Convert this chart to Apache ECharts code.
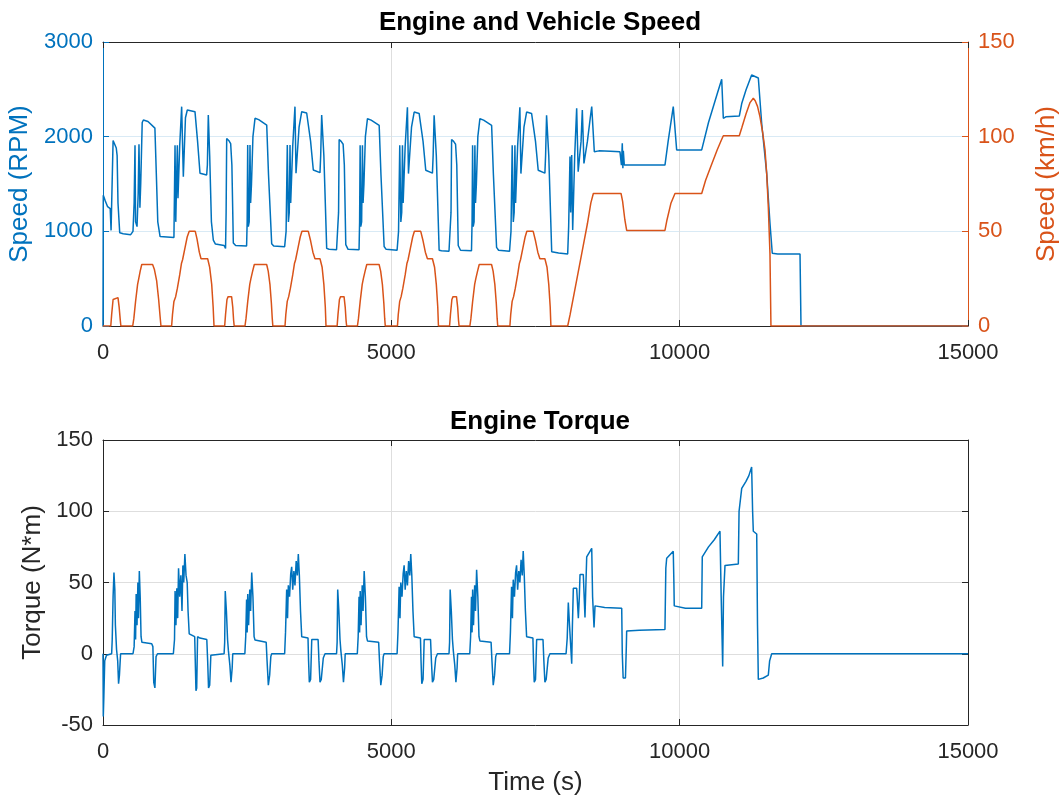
<!DOCTYPE html>
<html><head><meta charset="utf-8">
<script src="https://cdn.jsdelivr.net/npm/echarts@6/dist/echarts.min.js"></script>
<style>html,body{margin:0;padding:0;background:#fff}#c{width:1063px;height:804px}</style>
</head><body><div id="c"></div>
<script>
// ---- data (time in x-axis units) ----
const titles = ['Engine and Vehicle Speed', 'Engine Torque'];
const xTicks = { min: 0, max: 15000, step: 5000 };
const rpmTicks = { min: 0, max: 3000, step: 1000 };
const kmhTicks = { min: 0, max: 150, step: 50 };
const torqueTicks = { min: -50, max: 150, step: 50 };

const engineSpeed = [
 [0,0],[5,1380],[40,1320],[80,1260],[125,1240],[140,1010],[165,990],[175,1960],[200,1950],[230,1880],[245,1800],[260,1300],[290,985],[350,975],[480,965],[520,1000],[540,1300],[555,1910],[565,1100],[590,1050],[610,1400],[624,1920],[640,1250],[654,1500],[680,2150],[700,2176],[780,2160],[900,2090],[925,1600],[950,1100],[990,945],[1230,935],[1249,1910],[1262,1100],[1275,1500],[1289,1910],[1300,1350],[1330,1900],[1364,2317],[1393,1577],[1430,2200],[1462,2282],[1595,2264],[1640,1950],[1682,1613],[1798,1595],[1810,1700],[1826,2229],[1850,1800],[1880,1100],[1913,908],
 [1950,865],[2100,850],[2125,820],[2135,1200],[2145,1980],[2180,1960],[2214,1926],[2235,1700],[2260,877],[2300,850],[2490,845],[2500,1100],[2509,1912],[2520,1050],[2535,1100],[2549,1912],[2560,1300],[2575,1500],[2600,2000],[2636,2194],[2700,2180],[2839,2123],[2870,1600],[2925,870],[2960,845],[3150,838],[3175,1000],[3196,1912],[3215,1100],[3230,1200],[3243,1912],[3255,1300],[3290,1900],[3329,2317],[3347,1613],[3400,2100],[3446,2264],[3532,2250],[3600,1950],[3647,1648],[3763,1620],[3775,1800],[3792,2229],[3830,1800],[3879,820],
 [3920,810],[4050,805],[4075,790],[4085,1200],[4095,1970],[4130,1950],[4164,1920],[4185,1700],[4210,860],[4250,810],[4440,805],[4450,1100],[4459,1910],[4470,1050],[4485,1100],[4499,1910],[4510,1300],[4525,1500],[4550,2000],[4586,2190],[4650,2175],[4789,2120],[4820,1600],[4875,840],[4910,810],[5100,800],[5125,1000],[5146,1910],[5165,1100],[5180,1200],[5193,1910],[5205,1300],[5240,1900],[5279,2310],[5297,1610],[5350,2100],[5396,2260],[5482,2245],[5550,1950],[5597,1645],[5713,1615],[5725,1800],[5742,2225],[5780,1800],[5829,800],
 [5870,795],[6000,790],[6025,780],[6035,1200],[6045,1970],[6080,1950],[6114,1920],[6135,1700],[6160,850],[6200,800],[6390,795],[6400,1100],[6409,1910],[6420,1050],[6435,1100],[6449,1910],[6460,1300],[6475,1500],[6500,2000],[6536,2190],[6600,2175],[6739,2120],[6770,1600],[6825,830],[6860,800],[7050,790],[7075,1000],[7096,1910],[7115,1100],[7130,1200],[7143,1910],[7155,1300],[7190,1900],[7229,2310],[7247,1610],[7300,2100],[7346,2260],[7432,2245],[7500,1950],[7547,1645],[7663,1615],[7675,1800],[7692,2225],[7730,1800],[7781,785],
 [7900,770],[8058,760],[8075,1050],[8098,1790],[8110,1200],[8128,1806],[8145,1014],[8180,1800],[8214,2299],[8240,1630],[8290,1950],[8312,2282],[8340,1718],[8400,1950],[8450,2200],[8475,2317],[8520,1841],[8600,1850],[8800,1845],[8965,1840],[8990,1700],[9005,1930],[9015,1666],[9023,1850],[9040,1700],[9081,1700],[9745,1700],[9800,1950],[9889,2317],[9948,1859],[10382,1860],[10500,2150],[10650,2450],[10729,2606],[10757,2194],[10800,2210],[11034,2218],[11076,2350],[11150,2493],[11248,2651],[11364,2620],[11422,2141],[11509,1613],[11566,1085],[11606,768],[11700,760],[12087,760],[12104,0],[15000,0]
];

const vehicleSpeed = [
 [0,0],[135,0],[150,6],[175,14],[200,15],[260,15],[280,10],[300,3],[310,0],[515,0],[535,4],[565,13],[600,22],[620,25],[645,29],[672,32.5],[860,32.5],[890,30],[930,24],[965,14],[990,5],[1005,0],[1190,0],[1205,6],[1230,13],[1260,15.5],[1290,20],[1330,27],[1360,33],[1380,35],[1420,41],[1460,47],[1495,50],[1600,50],[1630,46],[1670,39],[1700,35.5],[1815,35.5],[1850,31],[1885,22],[1910,10],[1925,0],
 [2110,0],[2125,6],[2150,14],[2170,15.5],[2230,15.5],[2250,10],[2265,3],[2275,0],[2462,0],[2480,4],[2510,13],[2545,22],[2565,25],[2595,29],[2624,32.5],[2838,32.5],[2865,29],[2895,22],[2920,12],[2935,4],[2945,0],[3156,0],[3170,6],[3195,13],[3220,15.5],[3250,20],[3290,27],[3320,33],[3340,35],[3380,41],[3420,47],[3450,50],[3560,50],[3600,45],[3640,39],[3676,35.5],[3763,35.5],[3800,31],[3830,22],[3855,10],[3867,0],
 [4060,0],[4075,6],[4100,14],[4120,15.5],[4180,15.5],[4200,10],[4215,3],[4225,0],[4412,0],[4430,4],[4460,13],[4495,22],[4515,25],[4545,29],[4574,32.5],[4788,32.5],[4815,29],[4845,22],[4870,12],[4885,4],[4895,0],[5106,0],[5120,6],[5145,13],[5170,15.5],[5200,20],[5240,27],[5270,33],[5290,35],[5330,41],[5370,47],[5400,50],[5510,50],[5550,45],[5590,39],[5626,35.5],[5713,35.5],[5750,31],[5780,22],[5805,10],[5817,0],
 [6010,0],[6025,6],[6050,14],[6070,15.5],[6130,15.5],[6150,10],[6165,3],[6175,0],[6362,0],[6380,4],[6410,13],[6445,22],[6465,25],[6495,29],[6524,32.5],[6738,32.5],[6765,29],[6795,22],[6820,12],[6835,4],[6845,0],[7056,0],[7070,6],[7095,13],[7120,15.5],[7150,20],[7190,27],[7220,33],[7240,35],[7280,41],[7320,47],[7350,50],[7460,50],[7500,45],[7540,39],[7576,35.5],[7663,35.5],[7700,31],[7730,22],[7755,10],[7767,0],
 [8058,0],[8100,6],[8200,22],[8300,38],[8400,54],[8460,65],[8503,70],[8983,70],[9010,66],[9050,56],[9081,50.5],[9745,50.5],[9780,56],[9850,65],[9919,70],[10382,70],[10450,77],[10550,85],[10650,93],[10720,98],[10757,100.5],[11034,100.5],[11080,105],[11150,112],[11220,118],[11277,120.3],[11310,119],[11350,116],[11393,110.5],[11440,102],[11480,93],[11510,80],[11537,63],[11566,38],[11583,0],[15000,0]
];

const engineTorque = [
 [0,0],[5,-44],[15,-30],[30,-5],[60,-1],[150,0],[160,10],[175,40],[190,57],[205,45],[215,20],[235,3],[255,-5],[270,-21],[285,-15],[305,0],[520,0],[540,5],[555,30],[565,10],[575,42],[590,20],[605,50],[615,25],[630,58],[645,40],[660,12],[675,8],[845,7],[865,5],[880,-20],[900,-24],[920,-2],[945,0],[1220,0],[1240,10],[1250,44],[1265,20],[1280,46],[1295,25],[1310,60],[1330,40],[1350,55],[1370,30],[1385,62],[1400,50],[1420,70],[1440,55],[1460,50],[1475,30],[1495,14],[1520,13],[1590,12],[1600,-5],[1612,-26],[1625,-24],[1640,12],[1680,11],[1800,10],[1815,-5],[1830,-24],[1850,-22],[1870,-1],[1890,0],
 [2100,0],[2110,8],[2120,44],[2140,30],[2160,10],[2175,2],[2200,-8],[2220,-20],[2240,-10],[2250,0],[2460,0],[2475,12],[2490,38],[2500,15],[2510,42],[2525,20],[2545,45],[2560,30],[2579,57],[2600,40],[2620,12],[2636,9.7],[2830,8],[2845,-5],[2867,-22],[2890,-15],[2910,-2],[2925,0],[3150,0],[3165,15],[3185,45],[3200,25],[3214,48],[3235,40],[3255,56],[3272,61],[3290,45],[3310,58],[3329,48],[3350,65],[3370,55],[3387,70],[3405,55],[3425,30],[3446,12],[3555,11],[3565,-5],[3578,-20],[3600,-18],[3620,10],[3647,11],[3730,10],[3745,-5],[3763,-20],[3785,-18],[3820,-3],[3850,0],
 [4050,0],[4060,8],[4070,45],[4090,30],[4110,10],[4125,2],[4150,-8],[4170,-20],[4190,-10],[4200,0],[4410,0],[4425,12],[4440,40],[4450,15],[4460,44],[4475,20],[4495,48],[4510,30],[4529,58],[4550,40],[4570,12],[4586,9],[4780,8],[4795,-5],[4817,-22],[4840,-15],[4860,-2],[4875,0],[5100,0],[5115,15],[5135,47],[5150,25],[5164,50],[5185,40],[5205,56],[5222,62],[5240,45],[5260,58],[5279,48],[5300,65],[5320,55],[5337,70],[5355,55],[5375,30],[5396,12],[5505,11],[5515,-5],[5528,-21],[5550,-18],[5570,10],[5597,11],[5680,10],[5695,-5],[5713,-20],[5735,-18],[5770,-3],[5800,0],
 [6000,0],[6010,8],[6020,45],[6040,30],[6060,10],[6075,2],[6100,-8],[6120,-20],[6140,-10],[6150,0],[6360,0],[6375,12],[6390,40],[6400,15],[6410,45],[6425,20],[6445,48],[6460,30],[6479,59],[6500,40],[6520,12],[6536,9],[6730,8],[6745,-5],[6767,-22],[6790,-15],[6810,-2],[6825,0],[7050,0],[7065,15],[7085,47],[7100,25],[7114,52],[7135,40],[7155,57],[7172,62],[7190,45],[7210,58],[7229,50],[7250,66],[7270,55],[7287,72],[7305,55],[7325,30],[7346,12],[7455,11],[7465,-5],[7478,-20],[7500,-18],[7520,10],[7547,11],[7630,10],[7645,-5],[7663,-20],[7685,-18],[7720,-3],[7750,0],
 [8030,0],[8050,11],[8069,36],[8090,20],[8128,-7],[8140,20],[8156,46],[8214,46],[8243,25],[8260,40],[8272,55.6],[8329,55.6],[8358,25.5],[8375,50],[8388,68],[8475,74],[8490,40],[8515,18.5],[8532,33.6],[8700,32.5],[8995,32],[9005,0],[9020,-17],[9060,-17],[9075,5],[9081,16],[9300,16.5],[9745,17],[9760,60],[9775,67],[9889,72],[9900,50],[9906,33.6],[10100,32],[10382,32],[10392,68],[10500,75],[10600,80],[10699,86],[10720,40],[10746,-9],[10760,40],[10786,62],[11017,63],[11030,100],[11076,116],[11150,121],[11200,125],[11248,131],[11265,100],[11277,86],[11336,84],[11350,20],[11364,-18],[11450,-17],[11537,-15],[11560,-5],[11596,0],[15000,0]
];

// ---- styling ----
const AX = '#262626', BLUE = '#0072BD', ORANGE = '#D95319';
const FONT = '"Liberation Sans", Arial, Helvetica, sans-serif';
const GRAY_GRID = '#dedede', BLUE_GRID = '#d9eaf5';
const TICK_FS = 22, NAME_FS = 26, TITLE_FS = 26;
const plain = v => String(v);

function xAx(grid, pos, withLabels, name) {
  return {
    gridIndex: grid, type: 'value', position: pos,
    min: xTicks.min, max: xTicks.max, interval: xTicks.step,
    name: name || '', nameLocation: 'middle', nameGap: 45,
    nameTextStyle: { color: AX, fontSize: NAME_FS, fontFamily: FONT },
    axisLine: { show: true, onZero: false, lineStyle: { color: AX, width: 1 } },
    axisTick: { show: true, inside: true, length: 6, lineStyle: { color: AX } },
    axisLabel: { show: withLabels, formatter: plain, color: AX, fontSize: TICK_FS, fontFamily: FONT, margin: 16, hideOverlap: false, showMinLabel: true, showMaxLabel: true },
    splitLine: { show: withLabels, lineStyle: { color: GRAY_GRID, width: 1 } }
  };
}
function yAx(grid, pos, t, color, withLabels, name, gap, split) {
  return {
    gridIndex: grid, type: 'value', position: pos,
    min: t.min, max: t.max, interval: t.step,
    name: name || '', nameLocation: 'middle', nameGap: gap || 50,
    nameTextStyle: { color: color, fontSize: NAME_FS, fontFamily: FONT },
    axisLine: { show: true, onZero: false, lineStyle: { color: color, width: 1 } },
    axisTick: { show: true, inside: true, length: 6, lineStyle: { color: color } },
    axisLabel: { show: withLabels, formatter: plain, color: color, fontSize: TICK_FS, fontFamily: FONT, margin: 10, hideOverlap: false, showMinLabel: true, showMaxLabel: true },
    splitLine: { show: !!split, lineStyle: { color: split || GRAY_GRID, width: 1 } }
  };
}

const chart = echarts.init(document.getElementById('c'), null, { renderer: 'canvas' });
chart.setOption({
  animation: false,
  backgroundColor: '#ffffff',
  title: [
    { text: titles[0], left: 535, top: 5, textAlign: 'center', textStyle: { fontSize: TITLE_FS, fontWeight: 'bold', color: '#000', fontFamily: FONT } },
    { text: titles[1], left: 535, top: 404, textAlign: 'center', textStyle: { fontSize: TITLE_FS, fontWeight: 'bold', color: '#000', fontFamily: FONT } }
  ],
  grid: [
    { left: 103, right: 95, top: 42, height: 284, containLabel: false, outerBoundsMode: 'none' },
    { left: 103, right: 95, top: 440, height: 285, containLabel: false, outerBoundsMode: 'none' }
  ],
  xAxis: [
    xAx(0, 'bottom', true),
    xAx(0, 'top', false),
    xAx(1, 'bottom', true, 'Time (s)'),
    xAx(1, 'top', false)
  ],
  yAxis: [
    yAx(0, 'left', rpmTicks, BLUE, true, 'Speed (RPM)', 55, BLUE_GRID),
    yAx(0, 'right', kmhTicks, ORANGE, true, 'Speed (km/h)', 66, null),
    yAx(1, 'left', torqueTicks, AX, true, 'Torque (N*m)', 42, GRAY_GRID),
    yAx(1, 'right', torqueTicks, AX, false, '', 10, null)
  ],
  series: [
    { name: 'Engine speed', type: 'line', xAxisIndex: 0, yAxisIndex: 0, data: engineSpeed, showSymbol: false, symbol: 'none', color: BLUE, lineStyle: { color: BLUE, width: 1.5 }, z: 3 },
    { name: 'Vehicle speed', type: 'line', xAxisIndex: 0, yAxisIndex: 1, data: vehicleSpeed, showSymbol: false, symbol: 'none', color: ORANGE, lineStyle: { color: ORANGE, width: 1.5 }, z: 4 },
    { name: 'Engine torque', type: 'line', xAxisIndex: 2, yAxisIndex: 2, data: engineTorque, showSymbol: false, symbol: 'none', color: BLUE, lineStyle: { color: BLUE, width: 1.5 }, z: 3 }
  ]
});
</script>
</body></html>
